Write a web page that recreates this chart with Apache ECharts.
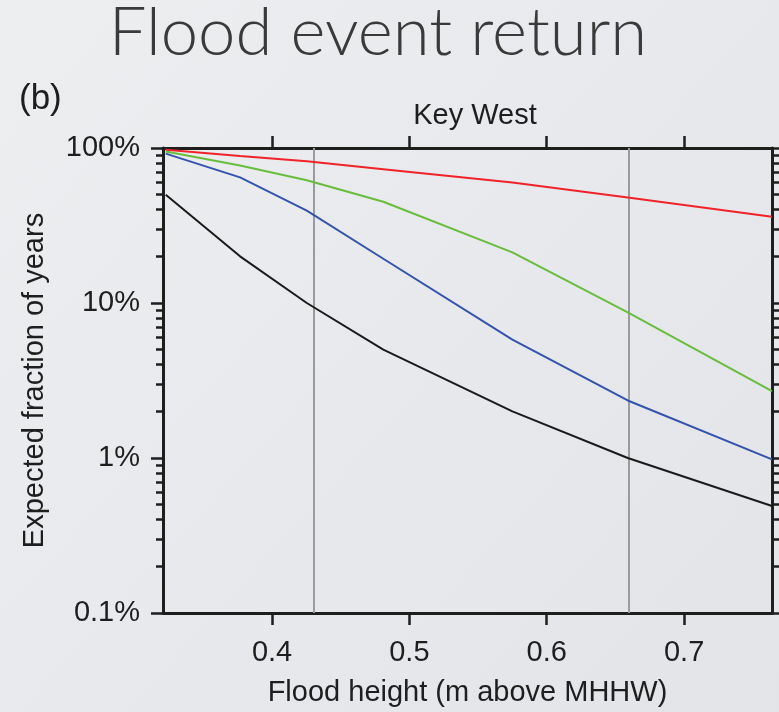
<!DOCTYPE html>
<html>
<head>
<meta charset="utf-8">
<script src="https://cdn.jsdelivr.net/npm/echarts@6/dist/echarts.min.js"></script>
<style>
  html, body { margin: 0; padding: 0; }
  #chart { width: 779px; height: 712px; }
</style>
</head>
<body>
<div id="chart"></div>
<script>
// Flood heights (m above MHHW) at which each curve is evaluated
const floodHeights = [0.3226, 0.3767, 0.4253, 0.481, 0.575, 0.659, 0.764];

// Expected fraction of years (%) with a flood at or above each height
const redValues   = [97.5, 88.8, 82, 73, 60, 48, 36];
const greenValues = [95, 77, 62, 45, 21.2, 8.7, 2.7];
const blueValues  = [92, 64.6, 39.4, 19.3, 5.8, 2.35, 0.98];
const blackValues = [50, 20, 10, 5, 2, 1, 0.49];

// Reference flood heights marked with vertical lines
const referenceHeights = [0.426, 0.659];

// Axis ticks
const xTicks = [0.4, 0.5, 0.6, 0.7];
const yMajorTicks = [0.1, 1, 10, 100];
const yMinorTicks = [0.2, 0.3, 0.4, 0.5, 0.6, 0.7, 0.8, 0.9,
                     2, 3, 4, 5, 6, 7, 8, 9,
                     20, 30, 40, 50, 60, 70, 80, 90];

const X_MIN = 0.3206, X_MAX = 0.764;
const Y_MIN = 0.1, Y_MAX = 100;

const ink = '#1e1e1e';
const labelFont = '"Liberation Sans", Arial, Helvetica, sans-serif';

const pair = (xs, ys) => xs.map((x, i) => [x, ys[i]]);

function yAxisBase(position, ticks, len, showLine) {
  return {
    type: 'log', logBase: 10, min: Y_MIN, max: Y_MAX,
    position: position,
    axisLine: { show: showLine, lineStyle: { color: ink, width: 3 } },
    axisTick: { show: true, inside: false, length: len, customValues: ticks,
                lineStyle: { color: ink, width: 2.5 } },
    axisLabel: { show: false },
    splitLine: { show: false },
    minorTick: { show: false }
  };
}

const chart = echarts.init(document.getElementById('chart'), null, { renderer: 'canvas' });

const leftMain = yAxisBase('left', yMajorTicks, 12, true);
leftMain.axisLabel = {
  show: true, customValues: yMajorTicks, margin: 23,
  color: ink, fontSize: 29, fontFamily: labelFont,
  formatter: v => (Math.round(v * 10) / 10) + '%'
};
leftMain.name = 'Expected fraction of years';
leftMain.nameLocation = 'middle';
leftMain.nameGap = 114;
leftMain.nameRotate = 90;
leftMain.nameMoveOverlap = false;
leftMain.nameTextStyle = { color: ink, fontSize: 29, fontFamily: labelFont };

const option = {
  backgroundColor: {
    type: 'linear', x: 0, y: 0, x2: 1, y2: 1,
    colorStops: [{ offset: 0, color: '#eceef0' }, { offset: 1, color: '#e2e4e8' }]
  },
  animation: false,
  title: [
    { text: 'Flood event return', left: 373, top: 28, textAlign: 'center', textVerticalAlign: 'middle',
      textStyle: { color: '#3a3a3a', fontSize: 67, fontWeight: 300, fontFamily: 'Lato, "Open Sans", sans-serif' } },
    { text: '(b)', left: 14, top: 77,
      textStyle: { color: ink, fontSize: 35, fontWeight: 'normal', fontFamily: labelFont } },
    { text: 'Key West', left: 470, top: 96, textAlign: 'center',
      textStyle: { color: ink, fontSize: 29, fontWeight: 'normal', fontFamily: labelFont } }
  ],
  grid: { left: 163, top: 148, width: 609, height: 465, containLabel: false, outerBoundsMode: 'none' },
  xAxis: [
    {
      type: 'value', min: X_MIN, max: X_MAX, position: 'bottom',
      name: 'Flood height (m above MHHW)', nameLocation: 'middle', nameGap: 65,
      nameMoveOverlap: false,
      nameTextStyle: { color: ink, fontSize: 29, fontFamily: labelFont },
      axisLine: { show: true, onZero: false, lineStyle: { color: ink, width: 3 } },
      axisTick: { show: true, inside: false, length: 12, customValues: xTicks,
                  lineStyle: { color: ink, width: 2.5 } },
      axisLabel: { show: true, customValues: xTicks, margin: 25, color: ink,
                   fontSize: 29, fontFamily: labelFont, formatter: v => v.toFixed(1) },
      splitLine: { show: false }
    },
    {
      type: 'value', min: X_MIN, max: X_MAX, position: 'top',
      axisLine: { show: true, onZero: false, lineStyle: { color: ink, width: 3 } },
      axisTick: { show: true, inside: false, length: 12, customValues: xTicks,
                  lineStyle: { color: ink, width: 2.5 } },
      axisLabel: { show: false },
      splitLine: { show: false }
    }
  ],
  yAxis: [
    leftMain,
    yAxisBase('left', yMinorTicks, 7, false),
    yAxisBase('right', yMajorTicks, 12, true),
    yAxisBase('right', yMinorTicks, 7, false)
  ],
  series: [
    { type: 'line', name: 'red', data: pair(floodHeights, redValues), showSymbol: false, z: 3,
      lineStyle: { color: '#f0222a', width: 2 } },
    { type: 'line', name: 'green', data: pair(floodHeights, greenValues), showSymbol: false, z: 3,
      lineStyle: { color: '#69bd3c', width: 2 } },
    { type: 'line', name: 'blue', data: pair(floodHeights, blueValues), showSymbol: false, z: 3,
      lineStyle: { color: '#3552ad', width: 2 } },
    { type: 'line', name: 'black', data: pair(floodHeights, blackValues), showSymbol: false, z: 3,
      lineStyle: { color: '#1a1a1a', width: 2 },
      markLine: {
        silent: true, symbol: 'none', label: { show: false }, z: 1,
        lineStyle: { color: '#9b9b9b', width: 2, type: 'solid' },
        data: referenceHeights.map(h => ({ xAxis: h }))
      } }
  ]
};

chart.setOption(option);
</script>
</body>
</html>
